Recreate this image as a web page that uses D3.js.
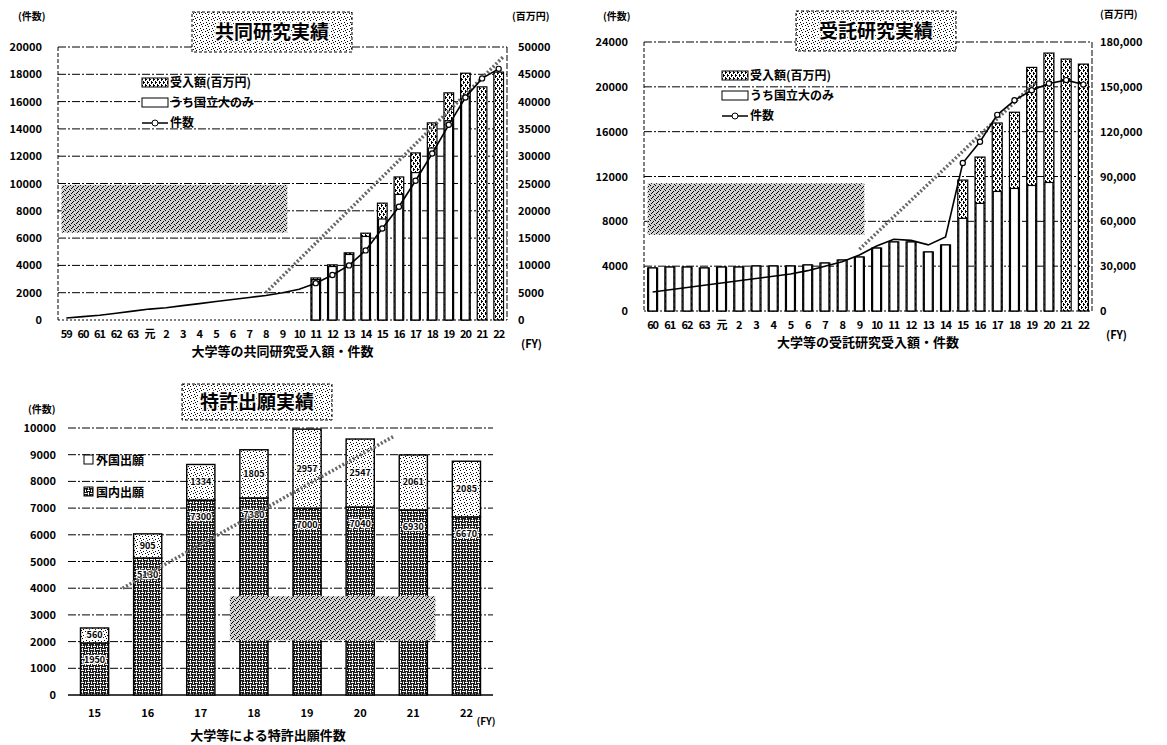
<!DOCTYPE html>
<html>
<head>
<meta charset="utf-8">
<script src="https://cdn.jsdelivr.net/npm/d3@7"></script>
<style>
  body { margin: 0; background: #fff; }
  svg { display: block; font-family: "Noto Sans CJK JP", "Noto Sans", sans-serif; }
</style>
</head>
<body>
<svg id="chart" width="1167" height="745"></svg>
<script>
// ---- 共同研究 (joint research) ----
const jointYears = ['59','60','61','62','63','元','2','3','4','5','6','7','8','9','10','11','12','13','14','15','16','17','18','19','20','21','22'];
const jointCount = [150,250,350,500,650,800,900,1050,1200,1350,1500,1650,1800,2000,2250,2700,3300,4000,5100,6700,8300,10200,12200,14300,16300,17700,18400];
const jointAmount = [null,null,null,null,null,null,null,null,null,null,null,null,null,null,null,7700,10100,12300,15900,21400,26200,30600,36100,41600,45200,42700,45400];
const jointNational = [null,null,null,null,null,null,null,null,null,null,null,null,null,null,null,7400,9800,12000,15300,18500,23000,27000,31500,36500,41000,null,null];
const jointLeftTicks = [0,2000,4000,6000,8000,10000,12000,14000,16000,18000,20000];
const jointRightTicks = [0,5000,10000,15000,20000,25000,30000,35000,40000,45000,50000];

// ---- 受託研究 (contract research) ----
const trustYears = ['60','61','62','63','元','2','3','4','5','6','7','8','9','10','11','12','13','14','15','16','17','18','19','20','21','22'];
const trustCount = [1700,1900,2100,2300,2500,2700,2900,3100,3300,3600,4000,4400,5000,5800,6400,6300,5900,6600,13200,15100,17500,18800,19700,20300,20600,20200];
const trustAmount = [28800,29400,29400,28800,29400,29400,30100,30100,30100,30800,32100,34100,36100,42100,46200,46200,39500,44200,87600,103000,125800,133000,163000,172600,168600,165200];
const trustNational = [28800,29400,29400,28800,29400,29400,30100,30100,30100,30800,32100,34100,36100,42100,46200,46200,39500,44200,62000,72000,80000,82000,84000,86000,null,null];
const trustLeftTicks = [0,4000,8000,12000,16000,20000,24000];
const trustRightTicks = [0,30000,60000,90000,120000,150000,180000];

// ---- 特許出願 (patent applications) ----
const patentYears = ['15','16','17','18','19','20','21','22'];
const patentDomestic = [1950,5130,7300,7380,7000,7040,6930,6670];
const patentForeign = [560,905,1334,1805,2957,2547,2061,2085];
const patentTicks = [0,1000,2000,3000,4000,5000,6000,7000,8000,9000,10000];

const svg = d3.select('#chart');
const defs = svg.append('defs');

// texture patterns imitating the scanned print
function makePattern(id, w, h, bg, marks) {
  const p = defs.append('pattern').attr('id', id)
    .attr('patternUnits', 'userSpaceOnUse').attr('width', w).attr('height', h);
  p.append('rect').attr('width', w).attr('height', h).attr('fill', bg);
  marks.forEach(m => p.append('rect').attr('x', m[0]).attr('y', m[1])
    .attr('width', m[2] || 1).attr('height', m[3] || 1).attr('fill', '#000'));
}
makePattern('stip', 6, 6, '#fff', [[1,1],[4,2],[2,4],[5,5],[3,0]]);
makePattern('dense', 5, 5, '#d0d0d0', [[0,0],[3,1],[1,3],[4,4],[2,2,1,1]]);
makePattern('amt', 4, 6, '#fff', [[1,0,1,3],[3,3,1,3],[0,4],[2,1]]);
makePattern('maze', 6, 6, '#1a1a1a', []);
const mz = defs.select('#maze');
['M0,1.5h3.5','M4.5,0v3.5','M1.5,3.5v2.5','M3,4.5h3'].forEach(d =>
  mz.append('path').attr('d', d).attr('stroke', '#fff').attr('stroke-width', 1).attr('fill', 'none'));

const gridDash = '8,2,2,2';

function titleBox(cx, cy, w, h, label) {
  svg.append('rect').attr('x', cx - w / 2).attr('y', cy - h / 2).attr('width', w).attr('height', h)
    .attr('fill', 'url(#stip)').attr('stroke', '#000').attr('stroke-dasharray', '3,2');
  svg.append('text').attr('x', cx).attr('y', cy + 7).attr('text-anchor', 'middle')
    .attr('font-size', 19).attr('font-weight', 700)
    .attr('stroke', '#fff').attr('stroke-width', 3).attr('paint-order', 'stroke').text(label);
}

function drawCombo(c) {
  const g = svg.append('g');
  const x = d3.scaleBand().domain(c.years).range([c.left, c.right]).paddingInner(0.42).paddingOuter(0.21);
  const yL = d3.scaleLinear().domain([0, c.maxL]).range([c.bottom, c.top]);
  const yR = d3.scaleLinear().domain([0, c.maxR]).range([c.bottom, c.top]);

  // grid
  g.selectAll('.grid').data(c.leftTicks.slice(1)).join('line')
    .attr('x1', c.left).attr('x2', c.right).attr('y1', d => yL(d)).attr('y2', d => yL(d))
    .attr('stroke', '#000').attr('stroke-width', 1).attr('stroke-dasharray', gridDash);
  g.append('line').attr('x1', c.left).attr('x2', c.left).attr('y1', c.top).attr('y2', c.bottom)
    .attr('stroke', '#000').attr('stroke-dasharray', '4,2');
  g.append('line').attr('x1', c.right).attr('x2', c.right).attr('y1', c.top).attr('y2', c.bottom)
    .attr('stroke', '#000').attr('stroke-dasharray', '6,2');
  g.append('line').attr('x1', c.left).attr('x2', c.right).attr('y1', c.bottom).attr('y2', c.bottom)
    .attr('stroke', '#000').attr('stroke-dasharray', '2,2');

  // shaded overlay block
  const s = c.shade;
  g.append('rect').attr('x', x(s.from)).attr('y', yL(s.hi))
    .attr('width', x(s.to) + x.bandwidth() - x(s.from)).attr('height', yL(s.lo) - yL(s.hi))
    .attr('fill', 'url(#dense)');

  // bars
  const rows = c.years.map((yr, i) => ({ yr, amt: c.amount[i], nat: c.national[i], cnt: c.count[i] }));
  g.selectAll('.amt').data(rows.filter(d => d.amt != null)).join('rect')
    .attr('x', d => x(d.yr)).attr('width', x.bandwidth())
    .attr('y', d => yR(d.amt)).attr('height', d => c.bottom - yR(d.amt))
    .attr('fill', 'url(#amt)').attr('stroke', '#000').attr('stroke-width', 1.2);
  g.selectAll('.nat').data(rows.filter(d => d.nat != null)).join('rect')
    .attr('x', d => x(d.yr) + 1).attr('width', x.bandwidth() - 2)
    .attr('y', d => yR(d.nat)).attr('height', d => c.bottom - yR(d.nat))
    .attr('fill', '#fff').attr('stroke', '#000').attr('stroke-width', 1.2);

  // decorative growth arrow
  const a = c.arrow;
  g.append('line').attr('x1', x(a.from) + x.bandwidth() / 2).attr('y1', yL(a.v0))
    .attr('x2', x(a.to) + x.bandwidth()).attr('y2', yL(a.v1))
    .attr('stroke', '#666').attr('stroke-width', 3.5).attr('stroke-dasharray', '2,2');

  // count line
  const cx = d => x(d.yr) + x.bandwidth() / 2;
  g.append('path').datum(rows)
    .attr('d', d3.line().x(cx).y(d => yL(d.cnt)))
    .attr('fill', 'none').attr('stroke', '#000').attr('stroke-width', 1.6);
  g.selectAll('.mk').data(rows.slice(c.markFrom)).join('circle')
    .attr('cx', cx).attr('cy', d => yL(d.cnt)).attr('r', 2.6)
    .attr('fill', '#fff').attr('stroke', '#000').attr('stroke-width', 1.2);

  // axes labels
  const axL = g.append('g').attr('transform', `translate(${c.left},0)`)
    .call(d3.axisLeft(yL).tickValues(c.leftTicks).tickSize(0).tickPadding(c.padL).tickFormat(d3.format('d')));
  const axR = g.append('g').attr('transform', `translate(${c.right},0)`)
    .call(d3.axisRight(yR).tickValues(c.rightTicks).tickSize(0).tickPadding(c.padR).tickFormat(c.fmtR));
  const axX = g.append('g').attr('transform', `translate(0,${c.bottom})`)
    .call(d3.axisBottom(x).tickSize(0).tickPadding(10));
  [axL, axR, axX].forEach(ax => {
    ax.select('.domain').remove();
    ax.selectAll('text').attr('font-size', 11).attr('font-weight', 700).attr('fill', '#000')
      .attr('font-family', '"Noto Sans CJK JP", sans-serif');
  });
  axX.selectAll('text').attr('letter-spacing', -1);

  // unit labels and titles
  svg.append('text').attr('x', c.unitL[0]).attr('y', c.unitL[1]).attr('font-size', 10).attr('font-weight', 700).text('(件数)');
  svg.append('text').attr('x', c.unitR[0]).attr('y', c.unitR[1]).attr('font-size', 10).attr('font-weight', 700).text('(百万円)');
  svg.append('text').attr('x', c.right + 14).attr('y', c.bottom + 28).attr('font-size', 11).attr('font-weight', 700).text('(FY)');
  svg.append('text').attr('x', (c.left + c.right) / 2).attr('y', c.bottom + 36).attr('text-anchor', 'middle')
    .attr('font-size', 13).attr('font-weight', 700).text(c.xTitle);
  titleBox(c.titlePos[0], c.titlePos[1], 160, 40, c.title);

  // legend
  const lg = svg.append('g').attr('transform', `translate(${c.legend[0]},${c.legend[1]})`)
    .attr('font-size', 12).attr('font-weight', 700);
  lg.append('rect').attr('x', 0).attr('y', -9).attr('width', 26).attr('height', 9).attr('fill', 'url(#amt)').attr('stroke', '#000');
  lg.append('text').attr('x', 28).attr('y', 0).text('受入額(百万円)');
  lg.append('rect').attr('x', 0).attr('y', 11).attr('width', 26).attr('height', 9).attr('fill', '#fff').attr('stroke', '#000');
  lg.append('text').attr('x', 28).attr('y', 20).text('うち国立大のみ');
  lg.append('line').attr('x1', 0).attr('x2', 26).attr('y1', 36).attr('y2', 36).attr('stroke', '#000').attr('stroke-width', 1.5);
  lg.append('circle').attr('cx', 13).attr('cy', 36).attr('r', 3).attr('fill', '#fff').attr('stroke', '#000');
  lg.append('text').attr('x', 28).attr('y', 40).text('件数');
}

drawCombo({
  years: jointYears, count: jointCount, amount: jointAmount, national: jointNational,
  left: 58, right: 507, top: 47, bottom: 320, maxL: 20000, maxR: 50000,
  leftTicks: jointLeftTicks, rightTicks: jointRightTicks, padL: 16, padR: 11, fmtR: d3.format('d'),
  shade: { from: '59', to: '9', hi: 9900, lo: 6400 },
  arrow: { from: '8', v0: 2000, to: '22', v1: 19300 },
  markFrom: 15,
  unitL: [18, 20], unitR: [512, 20], xTitle: '大学等の共同研究受入額・件数',
  title: '共同研究実績', titlePos: [272, 32], legend: [142, 87]
});

drawCombo({
  years: trustYears, count: trustCount, amount: trustAmount, national: trustNational,
  left: 644, right: 1092, top: 42, bottom: 311, maxL: 24000, maxR: 180000,
  leftTicks: trustLeftTicks, rightTicks: trustRightTicks, padL: 16, padR: 8, fmtR: d3.format(','),
  shade: { from: '60', to: '9', hi: 11400, lo: 6800 },
  arrow: { from: '9', v0: 5500, to: '19', v1: 20500 },
  markFrom: 18,
  unitL: [603, 20], unitR: [1100, 18], xTitle: '大学等の受託研究受入額・件数',
  title: '受託研究実績', titlePos: [876, 31], legend: [722, 80]
});

// ---- patent chart ----
(function () {
  const left = 68, right = 493, top = 428, bottom = 695;
  const g = svg.append('g');
  const x = d3.scaleBand().domain(patentYears).range([left, right]).paddingInner(0.47).paddingOuter(0.235);
  const y = d3.scaleLinear().domain([0, 10000]).range([bottom, top]);
  const rows = patentYears.map((yr, i) => ({ yr, domestic: patentDomestic[i], foreign: patentForeign[i] }));

  g.selectAll('.grid').data(patentTicks.slice(1)).join('line')
    .attr('x1', left).attr('x2', right).attr('y1', d => y(d)).attr('y2', d => y(d))
    .attr('stroke', '#000').attr('stroke-dasharray', gridDash);
  g.append('line').attr('x1', left).attr('x2', right).attr('y1', bottom).attr('y2', bottom)
    .attr('stroke', '#000').attr('stroke-width', 1.5);

  const stack = d3.stack().keys(['domestic', 'foreign'])(rows);
  const fills = { domestic: 'url(#maze)', foreign: 'url(#stip)' };
  stack.forEach(layer => {
    g.selectAll('.s' + layer.key).data(layer).join('rect')
      .attr('x', d => x(d.data.yr)).attr('width', x.bandwidth())
      .attr('y', d => y(d[1])).attr('height', d => y(d[0]) - y(d[1]))
      .attr('fill', fills[layer.key]).attr('stroke', '#000').attr('stroke-width', 1.4);
  });

  // value labels
  const lab = (sel) => sel.attr('text-anchor', 'middle').attr('font-size', 9).attr('font-weight', 700)
    .attr('stroke', '#fff').attr('stroke-width', 2.5).attr('paint-order', 'stroke').attr('fill', '#000');
  g.selectAll('.lf').data(rows).join('text')
    .attr('x', d => x(d.yr) + x.bandwidth() / 2)
    .attr('y', d => (y(d.domestic) + y(d.domestic + d.foreign)) / 2 + 3)
    .text(d => d.foreign).call(lab);
  g.selectAll('.ld').data(rows).join('text')
    .attr('x', d => x(d.yr) + x.bandwidth() / 2)
    .attr('y', d => y(d.domestic) + 20)
    .text(d => d.domestic).call(lab);

  // shaded overlay and decorative arrow
  g.append('rect').attr('x', x('18') - 10).attr('y', y(3700))
    .attr('width', x('21') + x.bandwidth() + 18 - x('18')).attr('height', y(2050) - y(3700))
    .attr('fill', 'url(#dense)');
  g.append('line').attr('x1', x('15') + x.bandwidth() + 14).attr('y1', y(4000))
    .attr('x2', x('20') + x.bandwidth() + 20).attr('y2', y(9700))
    .attr('stroke', '#666').attr('stroke-width', 3.5).attr('stroke-dasharray', '2,2');

  const axL = g.append('g').attr('transform', `translate(${left},0)`)
    .call(d3.axisLeft(y).tickValues(patentTicks).tickSize(0).tickPadding(12).tickFormat(d3.format('d')));
  const axX = g.append('g').attr('transform', `translate(0,${bottom})`)
    .call(d3.axisBottom(x).tickSize(0).tickPadding(14));
  [axL, axX].forEach(ax => {
    ax.select('.domain').remove();
    ax.selectAll('text').attr('font-size', 11).attr('font-weight', 700).attr('fill', '#000')
      .attr('font-family', '"Noto Sans CJK JP", sans-serif');
  });

  svg.append('text').attr('x', 28).attr('y', 413).attr('font-size', 10).attr('font-weight', 700).text('(件数)');
  svg.append('text').attr('x', x('22') + x.bandwidth() / 2 + 10).attr('y', bottom + 30).attr('font-size', 10).attr('font-weight', 700).text('(FY)');
  svg.append('text').attr('x', 268).attr('y', 740).attr('text-anchor', 'middle')
    .attr('font-size', 13).attr('font-weight', 700).text('大学等による特許出願件数');
  titleBox(257, 402, 150, 36, '特許出願実績');

  const lg = svg.append('g').attr('font-size', 12).attr('font-weight', 700);
  lg.append('rect').attr('x', 84).attr('y', 455).attr('width', 9).attr('height', 9).attr('fill', '#fff').attr('stroke', '#000');
  lg.append('text').attr('x', 96).attr('y', 465).text('外国出願');
  lg.append('rect').attr('x', 84).attr('y', 487).attr('width', 9).attr('height', 9).attr('fill', 'url(#maze)').attr('stroke', '#000');
  lg.append('text').attr('x', 96).attr('y', 497).text('国内出願');
})();
</script>
</body>
</html>
